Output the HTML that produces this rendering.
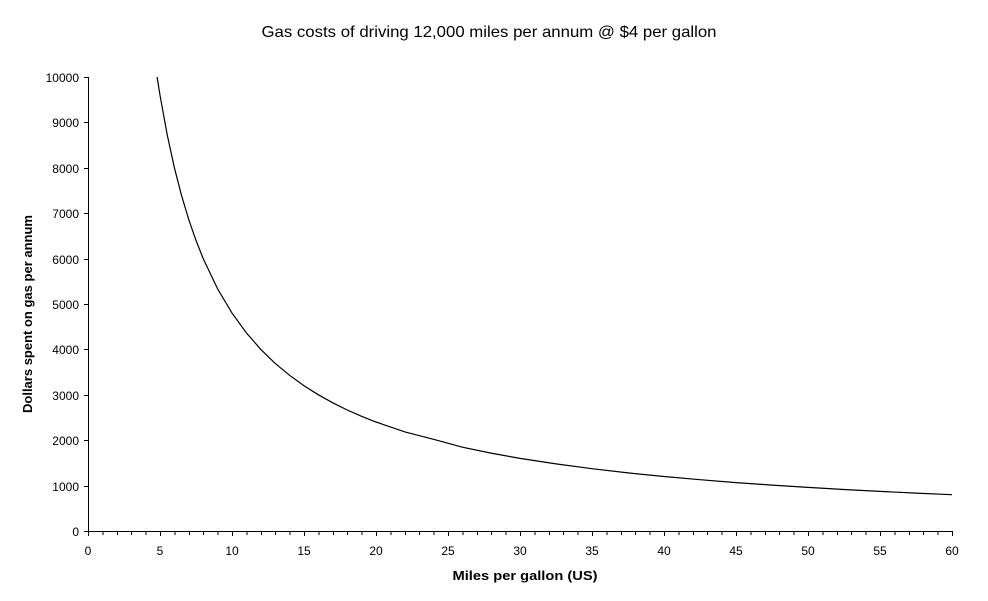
<!DOCTYPE html>
<html><head><style>body{margin:0;background:#fff}svg{display:block}</style></head><body>
<svg width="988" height="601" xmlns="http://www.w3.org/2000/svg" font-family="Liberation Sans, Arial, sans-serif">
<text x="489" y="37" font-size="16" text-anchor="middle" textLength="455" lengthAdjust="spacingAndGlyphs">Gas costs of driving 12,000 miles per annum @ $4 per gallon</text>
<g stroke="#000" stroke-width="1" fill="none" shape-rendering="crispEdges">
<line x1="88.5" y1="77" x2="88.5" y2="531"/>
<line x1="88" y1="531.5" x2="953" y2="531.5"/>
<path d="M84 77.5h4M84 122.5h4M84 168.5h4M84 213.5h4M84 259.5h4M84 304.5h4M84 349.5h4M84 395.5h4M84 440.5h4M84 486.5h4M84 531.5h4"/>
</g>
<g stroke="#000" stroke-width="1" shape-rendering="crispEdges">
<path d="M88.5 531v5M102.9 531v4M117.3 531v4M131.7 531v4M146.1 531v4M160.5 531v5M174.9 531v4M189.3 531v4M203.7 531v4M218.1 531v4M232.5 531v5M246.9 531v4M261.3 531v4M275.7 531v4M290.1 531v4M304.5 531v5M318.9 531v4M333.3 531v4M347.7 531v4M362.1 531v4M376.5 531v5M390.9 531v4M405.3 531v4M419.7 531v4M434.1 531v4M448.5 531v5M462.9 531v4M477.3 531v4M491.7 531v4M506.1 531v4M520.5 531v5M534.9 531v4M549.3 531v4M563.7 531v4M578.1 531v4M592.5 531v5M606.9 531v4M621.3 531v4M635.7 531v4M650.1 531v4M664.5 531v5M678.9 531v4M693.3 531v4M707.7 531v4M722.1 531v4M736.5 531v5M750.9 531v4M765.3 531v4M779.7 531v4M794.1 531v4M808.5 531v5M822.9 531v4M837.3 531v4M851.7 531v4M866.1 531v4M880.5 531v5M894.9 531v4M909.3 531v4M923.7 531v4M938.1 531v4M952.5 531v5"/>
</g>
<g font-size="12" text-anchor="end">
<text x="79" y="82">10000</text><text x="79" y="127">9000</text><text x="79" y="173">8000</text><text x="79" y="218">7000</text><text x="79" y="264">6000</text><text x="79" y="309">5000</text><text x="79" y="354">4000</text><text x="79" y="400">3000</text><text x="79" y="445">2000</text><text x="79" y="491">1000</text><text x="79" y="536">0</text>
</g>
<g font-size="12" text-anchor="middle">
<text x="88" y="555">0</text><text x="160" y="555">5</text><text x="232" y="555">10</text><text x="304" y="555">15</text><text x="376" y="555">20</text><text x="448" y="555">25</text><text x="520" y="555">30</text><text x="592" y="555">35</text><text x="664" y="555">40</text><text x="736" y="555">45</text><text x="808" y="555">50</text><text x="880" y="555">55</text><text x="952" y="555">60</text>
</g>
<text x="525" y="580" font-size="13" font-weight="bold" text-anchor="middle" textLength="145" lengthAdjust="spacingAndGlyphs">Miles per gallon (US)</text>
<text transform="translate(32,314) rotate(-90)" font-size="13" font-weight="bold" text-anchor="middle" textLength="198" lengthAdjust="spacingAndGlyphs">Dollars spent on gas per annum</text>
<polyline fill="none" stroke="#000" stroke-width="1.2" points="157.1,77 160,95.2 167.2,134.8 174.4,167.8 181.6,195.7 188.8,219.7 196,240.4 203.2,258.6 217.6,288.9 232,313.1 246.4,332.9 260.8,349.4 275.2,363.4 289.6,375.3 304,385.7 318.4,394.8 332.8,402.8 347.2,410.0 361.6,416.3 376,422 405,431.9 434,439.4 462.4,447.2 491,453.1 520,458.4 556,463.9 592,468.7 628,472.9 664,476.5 700,479.7 736,482.6 772,485.1 808,487.4 844,489.5 880,491.4 916,493.1 952,494.7"/>
</svg>
</body></html>
